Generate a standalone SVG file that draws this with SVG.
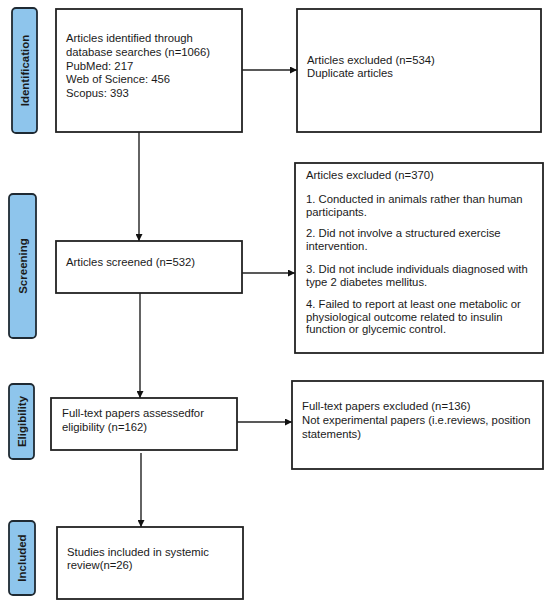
<svg xmlns="http://www.w3.org/2000/svg" width="550" height="604" viewBox="0 0 550 604">
<defs>
<marker id="ah" viewBox="0 0 10 10" refX="10" refY="5" markerWidth="7" markerHeight="7" orient="auto" markerUnits="userSpaceOnUse">
<path d="M0,0 L10,5 L0,10 z" fill="#111"/>
</marker>
<style>
.box{fill:#fff;stroke:#222;stroke-width:1.8}
.lab{fill:#8ec5ec;stroke:#1f2a33;stroke-width:1.8}
.lt{font-family:"Liberation Sans",Arial,sans-serif;font-size:11.5px;font-weight:bold;fill:#1a1a1a;text-anchor:middle}
.t{font-family:"Liberation Sans",Arial,sans-serif;font-size:11.3px;fill:#1a1a1a}
.c{stroke:#222;stroke-width:1.4;fill:none}
</style>
</defs>
<rect width="550" height="604" fill="#fff"/>
<g id="stage-identification">
<rect class="lab" x="12" y="8" width="25" height="125" rx="4"/>
<text class="lt" transform="translate(28.5,70.5) rotate(-90)">Identification</text>
</g>
<g id="stage-screening">
<rect class="lab" x="9" y="194" width="27" height="144" rx="4"/>
<text class="lt" transform="translate(26.5,266) rotate(-90)">Screening</text>
</g>
<g id="stage-eligibility">
<rect class="lab" x="9" y="384" width="25" height="75" rx="4"/>
<text class="lt" transform="translate(25.5,421.5) rotate(-90)">Eligibility</text>
</g>
<g id="stage-included">
<rect class="lab" x="9" y="521" width="26" height="74" rx="4"/>
<text class="lt" transform="translate(26,558) rotate(-90)">Included</text>
</g>
<g id="identified">
<rect class="box" x="56" y="9" width="186" height="123"/>
<text class="t" x="66" y="42">Articles identified through</text>
<text class="t" x="66" y="56">database searches (n=1066)</text>
<text class="t" x="66" y="69.5">PubMed: 217</text>
<text class="t" x="66" y="83">Web of Science: 456</text>
<text class="t" x="66" y="97">Scopus: 393</text>
</g>
<g id="excluded-duplicates">
<rect class="box" x="297" y="9" width="244" height="123"/>
<text class="t" x="307" y="64">Articles excluded (n=534)</text>
<text class="t" x="307" y="77">Duplicate articles</text>
</g>
<g id="screened">
<rect class="box" x="56" y="241" width="186" height="52"/>
<text class="t" x="66" y="266">Articles screened (n=532)</text>
</g>
<g id="excluded-screening">
<rect class="box" x="295" y="163" width="248" height="190"/>
<text class="t" x="306" y="179">Articles excluded (n=370)</text>
<text class="t" x="306" y="203">1. Conducted in animals rather than human</text>
<text class="t" x="306" y="215.5">participants.</text>
<text class="t" x="306" y="237">2. Did not involve a structured exercise</text>
<text class="t" x="306" y="249.5">intervention.</text>
<text class="t" x="306" y="273">3. Did not include individuals diagnosed with</text>
<text class="t" x="306" y="285.5">type 2 diabetes mellitus.</text>
<text class="t" x="306" y="308">4. Failed to report at least one metabolic or</text>
<text class="t" x="306" y="320.5">physiological outcome related to insulin</text>
<text class="t" x="306" y="333">function or glycemic control.</text>
</g>
<g id="eligibility">
<rect class="box" x="51" y="398" width="186" height="52"/>
<text class="t" x="62" y="417">Full-text papers assessedfor</text>
<text class="t" x="62" y="431">eligibility (n=162)</text>
</g>
<g id="excluded-fulltext">
<rect class="box" x="292" y="381" width="251" height="88"/>
<text class="t" x="302" y="410">Full-text papers excluded (n=136)</text>
<text class="t" x="302" y="424">Not experimental papers (i.e.reviews, position</text>
<text class="t" x="302" y="438">statements)</text>
</g>
<g id="included">
<rect class="box" x="57" y="527" width="186" height="72"/>
<text class="t" x="67" y="556">Studies included in systemic</text>
<text class="t" x="67" y="569">review(n=26)</text>
</g>
<g id="connectors">
<line class="c" x1="242" y1="70" x2="297" y2="70" marker-end="url(#ah)"/>
<line class="c" x1="139" y1="132" x2="139" y2="241" marker-end="url(#ah)"/>
<line class="c" x1="242" y1="273" x2="295" y2="273" marker-end="url(#ah)"/>
<line class="c" x1="140" y1="293" x2="140" y2="398" marker-end="url(#ah)"/>
<line class="c" x1="237" y1="422" x2="292" y2="422" marker-end="url(#ah)"/>
<line class="c" x1="141" y1="453" x2="141" y2="527" marker-end="url(#ah)"/>
</g>
</svg>
